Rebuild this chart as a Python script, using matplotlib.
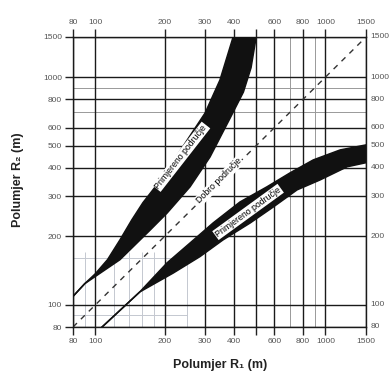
import numpy as np
import matplotlib
matplotlib.use('Agg')
import matplotlib.pyplot as plt
from matplotlib.ticker import NullLocator

plt.rcParams['font.family'] = ['Liberation Sans', 'DejaVu Sans']

# osi
x_ticks = [80, 100, 200, 300, 400, 500, 600, 800, 1000, 1500]
x_labels = ['80', '100', '200', '300', '400', '', '600', '800', '1000', '1500']
y_ticks = [80, 100, 200, 300, 400, 500, 600, 800, 1000, 1500]
y_labels = ['80', '100', '200', '300', '400', '500', '600', '800', '1000', '1500']
x_light = [700, 900]
y_light = [700, 900]
x_light_low = [90, 120, 140, 160, 180, 250]
y_light_low = [90, 160]

# gornje primjereno podrucje (R2 > R1)
up_top_r1 = [80, 90, 100, 113, 128, 144, 161, 197, 251, 300, 348, 397]
up_top_r2 = [109, 124, 137, 158, 193, 236, 281, 365, 530, 696, 971, 1500]
up_bot_r1 = [80, 90, 128, 146, 173, 205, 258, 315, 385, 440, 475, 500]
up_bot_r2 = [109, 124, 158, 180, 213, 253, 330, 446, 660, 860, 1100, 1500]

# donje primjereno podrucje (R2 < R1)
lo_top_r1 = [107, 156, 205, 258, 325, 425, 557, 702, 885, 1158, 1500]
lo_top_r2 = [80, 114, 153, 187, 229, 283, 330, 380, 433, 479, 504]
lo_bot_r1 = [107, 156, 218, 285, 359, 471, 593, 753, 949, 1242, 1500]
lo_bot_r2 = [80, 114, 138, 163, 193, 229, 269, 320, 354, 404, 421]

# dobro podrucje R2 = R1
diag = [80, 1500]

fig = plt.figure(figsize=(3.9, 3.74), dpi=100)
ax = fig.add_axes([73/390, 1-327/374, 293/390, 290/374])
ax.set_xscale('log')
ax.set_yscale('log')
ax.set_xlim(80, 1500)
ax.set_ylim(80, 1500)

ax.set_xticks(x_ticks)
ax.set_xticklabels(x_labels)
ax.set_yticks(y_ticks)
ax.set_yticklabels(y_labels)
ax.xaxis.set_minor_locator(NullLocator())
ax.yaxis.set_minor_locator(NullLocator())
ax.tick_params(which='major', direction='out', length=6, width=1.0, color='#222',
               top=True, right=False, labeltop=True, labelright=False,
               labelsize=6, labelcolor='#555', pad=2)
# desne oznake (odrezane rubom slike kao u izvorniku)
for v, lab in zip(y_ticks, y_labels):
    ax.text(1.016, v, lab, transform=ax.get_yaxis_transform(), fontsize=6,
            color='#555', ha='left', va='center', clip_on=False)

ax.grid(True, which='major', color='#1a1a1a', lw=1.0)
for s in ax.spines.values():
    s.set_color('#1a1a1a')
    s.set_linewidth(1.0)

for v in x_light:
    ax.axvline(v, color='#999', lw=0.7, zorder=1)
for v in y_light:
    ax.axhline(v, color='#999', lw=0.7, zorder=1)
for v in x_light_low:
    ax.vlines(v, 80, 170, color='#c4c8d0', lw=0.7, zorder=1)
for v in y_light_low:
    ax.hlines(v, 80, 250, color='#c4c8d0', lw=0.7, zorder=1)

# pojasevi
ax.fill(up_top_r1 + up_bot_r1[::-1], up_top_r2 + up_bot_r2[::-1], color='#111', zorder=3, lw=0)
ax.plot(up_top_r1, up_top_r2, color='#111', lw=1.1, zorder=3)
ax.plot(up_bot_r1, up_bot_r2, color='#111', lw=1.1, zorder=3)
ax.fill(lo_top_r1 + lo_bot_r1[::-1], lo_top_r2 + lo_bot_r2[::-1], color='#111', zorder=3, lw=0)
ax.plot(lo_top_r1, lo_top_r2, color='#111', lw=1.1, zorder=3)
ax.plot(lo_bot_r1, lo_bot_r2, color='#111', lw=1.1, zorder=3)

ax.plot(diag, diag, color='#333', lw=1.0, ls=(0, (4, 4)), zorder=2)

box = dict(fc='white', ec='none', pad=0.7)
ax.text(236, 447, 'Primjereno područje', rotation=52, fontsize=6.3,
        ha='center', va='center', bbox=box, zorder=4)
ax.text(461, 256, 'Primjereno područje', rotation=36, fontsize=6.3,
        ha='center', va='center', bbox=box, zorder=4)
ax.text(345, 350, 'Dobro područje', rotation=45, fontsize=6.3,
        ha='center', va='center', bbox=box, zorder=4)

fig.text(220/390, 1-365/374, 'Polumjer R₁ (m)', fontsize=9, fontweight='bold',
         ha='center', va='center', color='#222')
fig.text(18/390, 1-180/374, 'Polumjer R₂ (m)', fontsize=9, fontweight='bold',
         ha='center', va='center', rotation=90, color='#222')

fig.savefig('out.png', dpi=100)
